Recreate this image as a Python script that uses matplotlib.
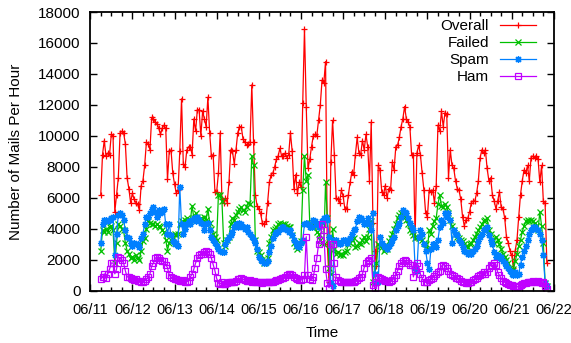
import numpy as np
import pandas as pd
import matplotlib
matplotlib.use("Agg")
import matplotlib.pyplot as plt
import matplotlib.dates as mdates

# hourly mail counts, first sample 06/11 06:00
start = pd.Timestamp("2011-06-11 06:00")

overall = [
    6200, 8800, 9700, 8700, 8900, 8800, 10100, 10000, 5100, 6200, 7300, 10200, 10300, 10200, 9500, 7300,
    6600, 5700, 6300, 5900, 5700, 5600, 5200, 6800, 7100, 8100, 9600, 9500, 9100, 11200, 11100, 10900,
    10800, 10500, 10100, 10500, 10700, 10500, 7200, 9000, 9100, 7600, 6900, 6300, 6500, 9000, 12400, 8200,
    8000, 9100, 9300, 9300, 8800, 11100, 10300, 11700, 11700, 10000, 11600, 11100, 10600, 12500, 10200, 8700,
    8800, 6400, 6400, 7600, 10200, 5900, 5700, 6000, 5700, 7000, 9100, 9000, 8200, 9100, 10200, 10600,
    10600, 9800, 9600, 9400, 9500, 9600, 13300, 9600, 6200, 5500, 5300, 5000, 4400, 4300, 4500, 5700,
    7000, 7500, 7600, 8000, 8500, 8700, 9200, 8700, 8700, 8900, 8600, 8800, 10200, 9000, 6600, 7500,
    6300, 7000, 6700, 12100, 16900, 11900, 7900, 8500, 9300, 10000, 10100, 10000, 11000, 12000, 13600, 13400,
    14800, 3000, 600, 8300, 11000, 8800, 6000, 5900, 5700, 6500, 6100, 5300, 5300, 6200, 7000, 7700,
    7500, 8800, 9900, 8900, 8800, 9700, 9100, 10100, 9300, 7100, 10900, 4400, 2600, 1600, 8100, 7800,
    6400, 6200, 6800, 6000, 6600, 6500, 8300, 7800, 9300, 9400, 9900, 10600, 11100, 11900, 11100, 10900,
    10600, 8800, 8800, 3500, 8900, 9400, 8800, 7600, 6500, 5000, 4800, 6500, 6400, 6500, 5700, 6800,
    10700, 10300, 11600, 10600, 11500, 11400, 7300, 9100, 8100, 7900, 7100, 6600, 6500, 5900, 4800, 4200,
    4600, 4700, 5100, 5700, 5800, 5800, 6300, 7100, 8600, 9100, 8900, 9100, 7900, 7100, 7300, 6200,
    5800, 5300, 5800, 6400, 5400, 5300, 4700, 3500, 3100, 2600, 2300, 1500, 2600, 3300, 4800, 6200,
    7100, 7800, 7600, 8100, 7100, 8600, 8700, 8600, 8700, 8500, 7000, 8100, 5800, 5700, 1800,
]

failed = [
    2600, 3900, 3800, 4000, 3800, 4100, 4200, 3900, 1800, 3100, 4300, 4200, 4000, 3900, 3100, 2600,
    2400, 2100, 2200, 2000, 2300, 2100, 2000, 2600, 3200, 3400, 4000, 4500, 4400, 4300, 4300, 4200,
    4300, 4200, 4100, 3900, 3800, 3300, 2600, 3100, 3300, 3500, 3700, 3600, 3700, 4300, 4500, 4400,
    4600, 4700, 4600, 4500, 5500, 4700, 5000, 4800, 4600, 4700, 4500, 4800, 4600, 5300, 4400, 4000,
    3700, 3500, 3300, 6200, 6200, 5800, 3100, 2900, 3300, 3500, 4300, 4700, 4600, 4900, 5100, 5300,
    5400, 5200, 5100, 5400, 5700, 5600, 8700, 8100, 3300, 2600, 2500, 2300, 2000, 1800, 1900, 2100,
    3100, 3500, 3900, 4000, 4100, 4300, 4400, 4200, 4300, 4300, 4200, 4100, 4100, 3600, 3100, 2900,
    2700, 2800, 3200, 6500, 8700, 7100, 7500, 4400, 4100, 4400, 4200, 3800, 3700, 3300, 3100, 3000,
    7000, 4700, 1500, 1100, 4000, 2700, 2400, 2500, 2300, 2400, 2300, 2500, 2600, 3000, 3100, 3300,
    3400, 2800, 2900, 3100, 3000, 3300, 3500, 3200, 3500, 4000, 4500, 600, 1100, 1800, 3000, 2900,
    2800, 2600, 2700, 2700, 3200, 3400, 3700, 4000, 4300, 4700, 4900, 5000, 5000, 4800, 4600, 4300,
    3900, 3800, 3600, 3400, 3500, 3400, 3500, 3300, 3100, 3000, 2700, 3900, 3700, 4200, 4500, 4700,
    5600, 6200, 5500, 5400, 5600, 5400, 5000, 4600, 4200, 3900, 3700, 3500, 3400, 3300, 3200, 3000,
    2900, 2800, 3000, 3100, 3300, 3500, 3700, 3900, 4100, 4300, 4500, 4600, 4700, 3900, 3700, 3300,
    3100, 3500, 3300, 3000, 2700, 2400, 2200, 2000, 1800, 1500, 1300, 1400, 1900, 2400, 2900, 3300,
    3800, 4200, 4500, 4600, 4500, 4600, 4500, 4400, 4200, 3900, 5100, 4200, 3100, 500, 300,
]

spam = [
    3100, 4300, 4600, 4600, 4500, 4600, 4700, 4800, 2300, 3700, 4900, 5000, 4900, 4600, 3900, 3500,
    3400, 3100, 2900, 3100, 3000, 3000, 2800, 3400, 3700, 4300, 4800, 4800, 5000, 5300, 5400, 5100,
    4800, 5200, 5000, 5100, 5300, 4300, 3700, 4300, 3600, 3200, 3000, 3100, 2900, 6700, 4300, 3700,
    4000, 4300, 4500, 4300, 4600, 4700, 4500, 4800, 4600, 4400, 4300, 3900, 4300, 4400, 3900, 3500,
    3300, 3100, 2900, 2700, 2600, 2500, 2500, 3000, 3300, 3500, 3600, 3800, 4100, 4300, 4100, 4400,
    4300, 4100, 4000, 4100, 3800, 3700, 3500, 3300, 3100, 2700, 2200, 2000, 1900, 1800, 1800, 1900,
    2500, 2900, 3400, 3700, 3800, 3800, 4000, 4100, 4100, 4000, 3900, 3800, 3900, 3600, 3300, 3100,
    2900, 2800, 3100, 3300, 4300, 4400, 4300, 4100, 4100, 4600, 4500, 4300, 4100, 4300, 4500, 4700,
    4800, 4600, 3500, 500, 300, 3300, 3300, 3100, 3000, 3100, 3300, 3300, 3100, 3300, 3400, 3700,
    3900, 4000, 4500, 4800, 4700, 4600, 4300, 4400, 4700, 4300, 3900, 5000, 1100, 500, 600, 3500,
    3100, 2900, 2800, 2700, 2900, 3100, 3300, 3500, 3900, 4200, 4400, 4800, 5200, 5100, 5000, 4700,
    4400, 4100, 3900, 1500, 1300, 3500, 3900, 3700, 3000, 2600, 1800, 1400, 2700, 3000, 3000, 2800,
    3300, 4100, 4600, 4400, 5000, 4800, 5000, 4600, 3100, 3900, 3700, 3600, 3300, 3100, 2800, 2600,
    2500, 2400, 2500, 2400, 2600, 2700, 2900, 3200, 3500, 3700, 3900, 4000, 4100, 3600, 3300, 3000,
    2500, 2200, 2300, 2100, 2200, 1900, 1800, 1600, 1500, 1300, 1100, 1000, 1200, 1000, 1100, 1700,
    2200, 2600, 2900, 3300, 3700, 3900, 4100, 4100, 4000, 3900, 3700, 3300, 2300, 500, 300,
]

ham = [
    750, 900, 1100, 800, 1100, 1400, 1800, 1800, 1100, 1400, 2200, 2100, 2000, 1800, 1300, 900,
    900, 850, 750, 700, 750, 650, 650, 600, 600, 650, 750, 900, 1100, 1600, 1800, 2100,
    2200, 2100, 2000, 1950, 1900, 1700, 1500, 1000, 900, 800, 750, 750, 700, 650, 650, 700,
    600, 600, 650, 900, 1100, 1400, 1800, 2100, 2300, 2400, 2400, 2500, 2600, 2500, 2400, 2100,
    1700, 1300, 800, 500, 450, 550, 450, 450, 500, 550, 550, 600, 550, 650, 750, 750,
    800, 750, 700, 650, 650, 700, 600, 650, 600, 550, 550, 550, 500, 550, 600, 550,
    550, 600, 600, 650, 700, 700, 750, 800, 850, 900, 1000, 1100, 1100, 1000, 900, 800,
    750, 700, 700, 750, 1000, 3500, 1000, 750, 700, 900, 1500, 2100, 3000, 3300, 4300, 3900,
    1400, 500, 200, 3000, 3000, 1800, 900, 700, 650, 600, 600, 550, 600, 550, 600, 550,
    600, 650, 700, 800, 900, 1100, 1500, 1800, 1900, 2000, 2100, 400, 200, 600, 900, 800,
    750, 700, 650, 650, 600, 650, 700, 800, 1000, 1300, 1600, 1800, 1900, 2000, 1900, 1800,
    1700, 1700, 900, 1400, 1800, 1600, 1100, 800, 600, 550, 600, 700, 750, 850, 950, 1100,
    1200, 1300, 1600, 1700, 1600, 1500, 1300, 1100, 1000, 950, 850, 850, 750, 650, 600, 550,
    500, 500, 550, 600, 700, 750, 850, 950, 1000, 1100, 1200, 1100, 1200, 1500, 1700, 1600,
    1800, 1700, 1200, 1000, 800, 650, 550, 500, 450, 400, 350, 300, 300, 250, 300, 400,
    450, 500, 500, 550, 550, 600, 650, 600, 550, 650, 550, 500, 600, 300, 150,
]

series = [
    ("Overall", overall, "#ff0000", "+", {}),
    ("Failed", failed, "#00c000", "x", {}),
    ("Spam", spam, "#0080ff", (8, 2, 0), {}),
    ("Ham", ham, "#c000ff", "s", {"markerfacecolor": "none"}),
]

plt.rcParams["font.family"] = ["Liberation Sans", "DejaVu Sans"]
plt.rcParams["font.size"] = 11

fig = plt.figure(figsize=(5.71, 3.43), dpi=100)
ax = fig.add_axes([0.158, 0.152, 0.812, 0.813])

for name, vals, col, mk, extra in series:
    t = start + pd.to_timedelta(np.arange(len(vals)), unit="h")
    ax.plot(t, vals, color=col, lw=0.9, marker=mk, ms=5, mew=0.9,
            label=name, **extra)

ax.set_xlim(pd.Timestamp("2011-06-11"), pd.Timestamp("2011-06-22"))
ax.set_ylim(0, 18000)
ax.set_yticks(np.arange(0, 18001, 2000))
ax.xaxis.set_major_locator(mdates.DayLocator())
ax.xaxis.set_minor_locator(mdates.HourLocator(byhour=[6, 12, 18]))
ax.xaxis.set_major_formatter(mdates.DateFormatter("%m/%d"))

ax.tick_params(which="both", direction="in", top=True, right=True, width=1)
ax.tick_params(which="major", length=5)
ax.tick_params(axis="x", which="major", pad=9, labelsize=10.5)
ax.tick_params(axis="y", which="major", pad=7)
ax.tick_params(which="minor", length=3)
for s in ax.spines.values():
    s.set_linewidth(1.3)

ax.set_xlabel("Time", labelpad=6)
ax.set_ylabel("Number of Mails Per Hour", labelpad=11)

ax.legend(loc="upper right", bbox_to_anchor=(0.962, 0.974), frameon=False,
          markerfirst=False, handlelength=2.4, labelspacing=0.2,
          borderaxespad=0, borderpad=0, handletextpad=0.7)

fig.savefig("out.png", dpi=100)
